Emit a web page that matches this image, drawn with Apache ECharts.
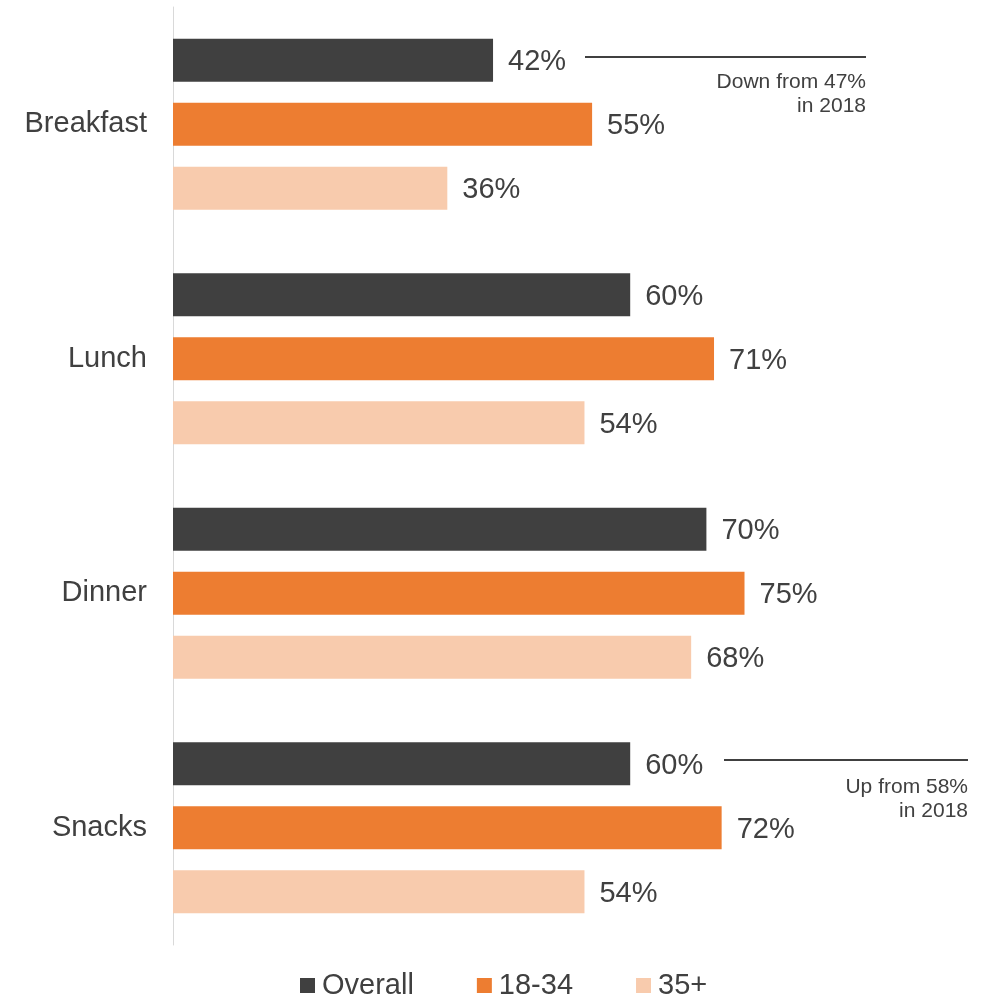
<!DOCTYPE html>
<html>
<head>
<meta charset="utf-8">
<script src="https://cdn.jsdelivr.net/npm/echarts@6/dist/echarts.min.js"></script>
<style>
  html, body { margin: 0; padding: 0; background: #fff; }
  #chart { width: 999px; height: 998px; }
</style>
</head>
<body>
<div id="chart"></div>
<script>
// meal occasions
let categories = ['Breakfast', 'Lunch', 'Dinner', 'Snacks'];

// share of consumers, %
let overall = [42, 60, 70, 60];
let age1834 = [55, 71, 75, 72];
let age35plus = [36, 54, 68, 54];

let seriesNames = ['Overall', '18-34', '35+'];
let colors = ['#404040', '#ED7D31', '#F8CBAD'];

let font = '"Liberation Sans", Arial, sans-serif';

let chart = echarts.init(document.getElementById('chart'));

function makeSeries(name, data, color) {
  return {
    name: name,
    type: 'bar',
    data: data,
    barWidth: 43,
    barGap: '49%',
    itemStyle: { color: color },
    label: {
      show: true,
      position: 'right',
      distance: 15,
      offset: [0, 2],
      formatter: '{c}%',
      fontSize: 29,
      color: '#404040',
      fontFamily: font
    }
  };
}

let option = {
  backgroundColor: '#ffffff',
  animation: false,
  grid: {
    left: 173,
    top: 7,
    width: 762,
    height: 938
  },
  xAxis: {
    type: 'value',
    min: 0,
    max: 100,
    show: false
  },
  yAxis: {
    type: 'category',
    data: categories,
    inverse: true,
    axisLine: { show: true, lineStyle: { color: '#d9d9d9', width: 1 } },
    axisTick: { show: false },
    axisLabel: {
      fontSize: 29,
      color: '#404040',
      margin: 26,
      padding: [4, 0, 0, 0],
      fontFamily: font
    }
  },
  legend: {
    top: 971,
    left: 300,
    padding: 0,
    itemWidth: 15,
    itemHeight: 15,
    itemGap: 63,
    icon: 'rect',
    textStyle: { fontSize: 29, color: '#404040', fontFamily: font, padding: [2, 0, 0, 2] },
    data: seriesNames
  },
  series: [
    makeSeries(seriesNames[0], overall, colors[0]),
    makeSeries(seriesNames[1], age1834, colors[1]),
    makeSeries(seriesNames[2], age35plus, colors[2])
  ],
  //注释
  graphic: [
    {
      type: 'line',
      shape: { x1: 585, y1: 57, x2: 866, y2: 57 },
      style: { stroke: '#404040', lineWidth: 2 }
    },
    {
      type: 'text',
      x: 866,
      y: 70,
      style: {
        text: 'Down from 47%\nin 2018',
        align: 'right',
        verticalAlign: 'top',
        fontSize: 21,
        lineHeight: 24,
        fill: '#404040',
        fontFamily: font
      }
    },
    {
      type: 'line',
      shape: { x1: 724, y1: 760, x2: 968, y2: 760 },
      style: { stroke: '#404040', lineWidth: 2 }
    },
    {
      type: 'text',
      x: 968,
      y: 775,
      style: {
        text: 'Up from 58%\nin 2018',
        align: 'right',
        verticalAlign: 'top',
        fontSize: 21,
        lineHeight: 24,
        fill: '#404040',
        fontFamily: font
      }
    }
  ]
};

chart.setOption(option);
</script>
</body>
</html>
